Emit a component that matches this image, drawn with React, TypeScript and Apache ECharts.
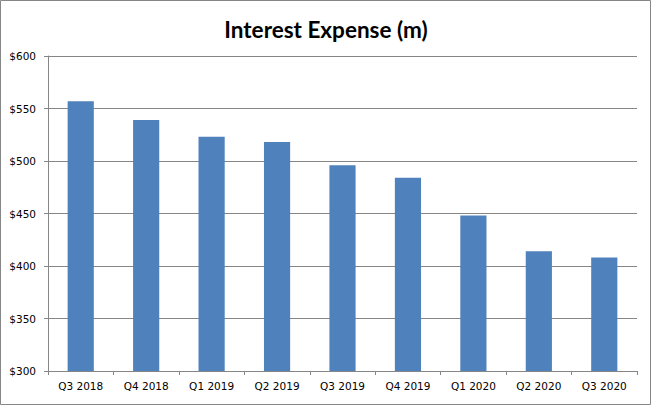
import React, { useEffect, useRef } from "react";
import * as echarts from "echarts";

const categories = ["Q3 2018", "Q4 2018", "Q1 2019", "Q2 2019", "Q3 2019", "Q4 2019", "Q1 2020", "Q2 2020", "Q3 2020"];
const interestExpense = [557, 539, 523, 518, 496, 484, 448, 414, 408];
const yMin = 300;
const yMax = 600;
const yInterval = 50;

export default function App() {
  const ref = useRef<HTMLDivElement>(null);
  useEffect(() => {
    if (!ref.current) return;
    const chart = echarts.init(ref.current, null, { renderer: "svg" });
    chart.setOption({
      animation: false,
      backgroundColor: "#ffffff",
      title: {
        text: "Interest Expense (m)",
        left: "center",
        top: 13,
        textStyle: { fontFamily: "Lato", fontWeight: "bold", fontSize: 22.5, color: "#000000" },
      },
      graphic: [
        {
          type: "rect",
          shape: { x: 0.5, y: 0.5, width: 650, height: 404 },
          style: { fill: "none", stroke: "#868686", lineWidth: 1 },
          silent: true,
        },
      ],
      grid: { left: 48, right: 15, top: 56, bottom: 35 },
      xAxis: {
        type: "category",
        data: categories,
        axisLine: { lineStyle: { color: "#868686", width: 1 } },
        axisTick: { show: true, length: 4, alignWithLabel: false, lineStyle: { color: "#868686" } },
        axisLabel: { color: "#000000", fontFamily: "DejaVu Sans", fontSize: 10.5, margin: 9 },
      },
      yAxis: {
        type: "value",
        min: yMin,
        max: yMax,
        interval: yInterval,
        axisLine: { show: true, lineStyle: { color: "#868686", width: 1 } },
        axisTick: { show: true, length: 4, lineStyle: { color: "#868686" } },
        splitLine: { show: true, lineStyle: { color: "#868686", width: 1 } },
        axisLabel: {
          color: "#000000",
          fontFamily: "DejaVu Sans",
          fontSize: 10.5,
          margin: 12,
          formatter: (v: number) => "$" + v,
        },
      },
      series: [
        {
          type: "bar",
          data: interestExpense,
          barWidth: "40%",
          itemStyle: { color: "#4F81BD" },
        },
      ],
    });
    return () => chart.dispose();
  }, []);
  return (
    <div
      ref={ref}
      style={{ position: "absolute", left: 0, top: 0, width: 652, height: 406 }}
    />
  );
}
